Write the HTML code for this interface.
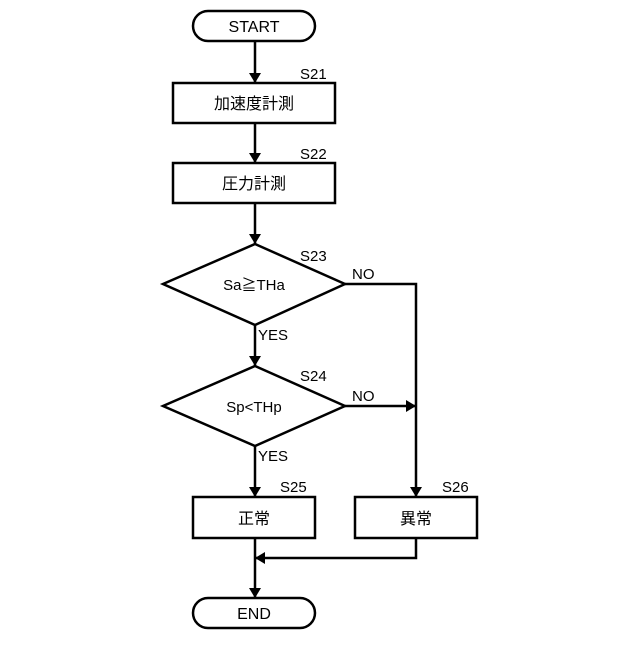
<!DOCTYPE html>
<html><head><meta charset="utf-8"><style>body{margin:0;background:#fff}</style></head><body>
<svg width="640" height="640" viewBox="0 0 640 640" xmlns="http://www.w3.org/2000/svg" font-family="Liberation Sans, Noto Sans CJK JP, sans-serif" font-size="16">
<defs><marker id="a" markerWidth="10" markerHeight="12" refX="10" refY="6" orient="auto" markerUnits="userSpaceOnUse"><path d="M0,0 L10,6 L0,12 z" fill="#000"/></marker></defs>
<g fill="none" stroke="#000" stroke-width="2.5">
<rect x="193" y="11" width="122" height="30" rx="15"/>
<rect x="173" y="83" width="162" height="40"/>
<rect x="173" y="163" width="162" height="40"/>
<polygon points="255,244 345,284 255,325 163,284"/>
<polygon points="255,366 345,406 255,446 163,406"/>
<rect x="193" y="497" width="122" height="41"/>
<rect x="355" y="497" width="122" height="41"/>
<rect x="193" y="598" width="122" height="30" rx="15"/>
<line x1="255" y1="41" x2="255" y2="83" marker-end="url(#a)"/>
<line x1="255" y1="123" x2="255" y2="163" marker-end="url(#a)"/>
<line x1="255" y1="203" x2="255" y2="244" marker-end="url(#a)"/>
<line x1="255" y1="325" x2="255" y2="366" marker-end="url(#a)"/>
<line x1="255" y1="446" x2="255" y2="497" marker-end="url(#a)"/>
<line x1="255" y1="538" x2="255" y2="598" marker-end="url(#a)"/>
<polyline points="345,284 416,284 416,497" marker-end="url(#a)"/>
<line x1="345" y1="406" x2="416" y2="406" marker-end="url(#a)"/>
<polyline points="416,538 416,558 255,558" marker-end="url(#a)"/>
</g>
<g fill="#000" text-anchor="middle">
<text x="254" y="32">START</text>
<text x="254" y="109">加速度計測</text>
<text x="254" y="189">圧力計測</text>
<text x="254" y="290" font-size="15">Sa≧THa</text>
<text x="254" y="412" font-size="15">Sp&lt;THp</text>
<text x="254" y="524">正常</text>
<text x="416" y="524">異常</text>
<text x="254" y="619">END</text>
</g>
<g fill="#000" font-size="15">
<text x="300" y="79">S21</text>
<text x="300" y="159">S22</text>
<text x="300" y="261">S23</text>
<text x="300" y="381">S24</text>
<text x="280" y="492">S25</text>
<text x="442" y="492">S26</text>
<text x="352" y="279">NO</text>
<text x="352" y="401">NO</text>
<text x="258" y="340">YES</text>
<text x="258" y="461">YES</text>
</g>
</svg>
</body></html>
